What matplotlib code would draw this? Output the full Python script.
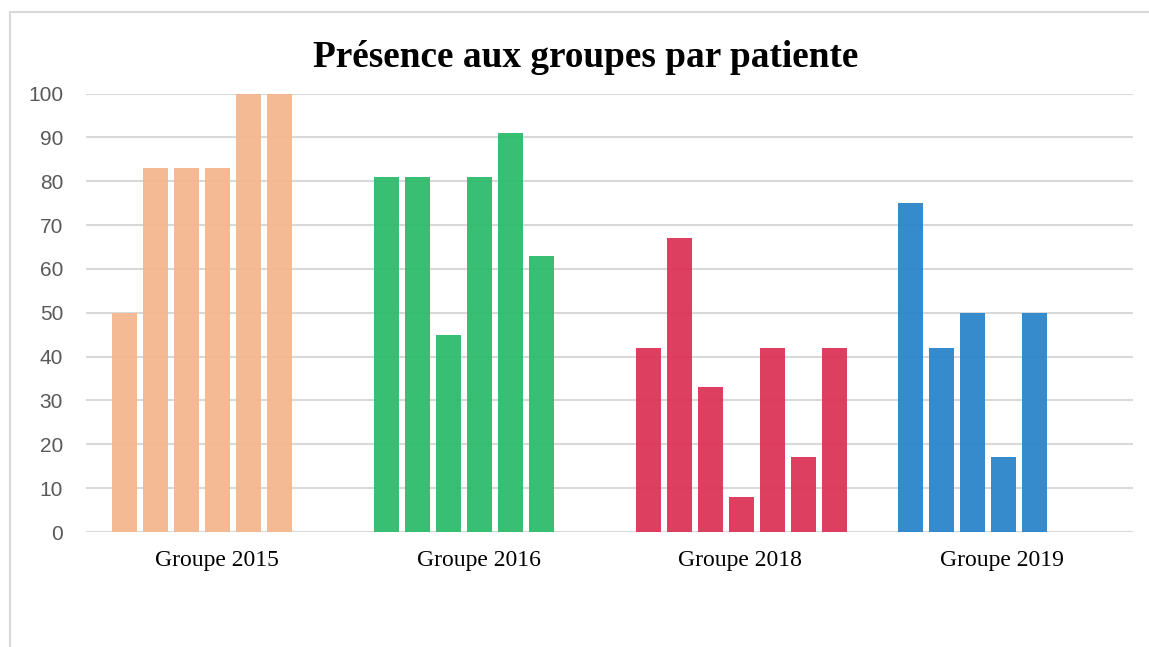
import numpy as np
import matplotlib
matplotlib.use("Agg")
import matplotlib.pyplot as plt
from matplotlib.patches import Rectangle

groups = ["Groupe 2015", "Groupe 2016", "Groupe 2018", "Groupe 2019"]
# presence (%) per patient, one list per group (7 slots, None = no patient)
groupe_2015 = [50, 83, 83, 83, 100, 100, None]
groupe_2016 = [81, 81, 45, 81, 91, 63, None]
groupe_2018 = [42, 67, 33, 8, 42, 17, 42]
groupe_2019 = [75, 42, 50, 17, 50, None, None]
values = [groupe_2015, groupe_2016, groupe_2018, groupe_2019]
colors = ["#F4B78E", "#2DBC6C", "#DC3458", "#2B85CB"]
yticks = list(range(0, 101, 10))

W, H = 1149, 647
fig = plt.figure(figsize=(W / 100, H / 100), dpi=100)
fig.patches.append(Rectangle((10 / W, -0.1), 1.2, 1 - 12 / H + 0.1, transform=fig.transFigure,
                             fill=False, edgecolor="#D9D9D9", linewidth=1.5))

ax = fig.add_axes([86 / W, 1 - 532 / H, (1133 - 86) / W, (532 - 93.5) / H])

slot = 31 / 261.75
bar_w = 25 / 261.75
n = 7
for i, vals in enumerate(values):
    for j, v in enumerate(vals):
        if v is None:
            continue
        x = i + (j - (n - 1) / 2) * slot + 1 / 261.75
        ax.bar(x, v, width=bar_w, color=colors[i], alpha=0.95, zorder=2)

ax.set_xlim(-0.5, len(groups) - 0.5)
ax.set_ylim(0, 100)
ax.set_yticks(yticks)
ax.set_yticklabels([str(t) for t in yticks], fontsize=15, color="#595959",
                   family=["Liberation Sans", "DejaVu Sans"])
ax.set_xticks(range(len(groups)))
ax.set_xticklabels(groups, fontsize=17, family=["Liberation Serif", "DejaVu Serif"])
ax.tick_params(axis="y", length=0, pad=16.5)
ax.tick_params(axis="x", length=0, pad=13)
ax.grid(axis="y", color="#D9D9D9", linewidth=1.5, zorder=0)
ax.set_axisbelow(True)
for s in ax.spines.values():
    s.set_visible(False)

fig.text(586 / W, 1 - 67 / H, "Présence aux groupes par patiente", ha="center", va="baseline",
         fontsize=26.8, fontweight="bold", family=["Liberation Serif", "DejaVu Serif"])

fig.savefig("out.png", dpi=100)
